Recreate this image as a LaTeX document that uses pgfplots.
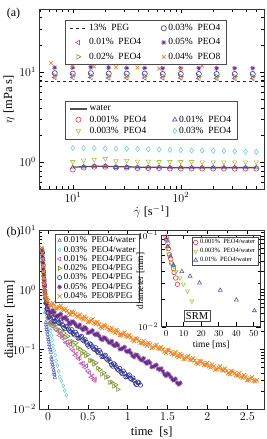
\documentclass[border=0pt]{standalone}
\usepackage{pgfplots}
\pgfplotsset{compat=1.18}
\usepackage{fontspec}
\setmainfont{Liberation Serif}
\usetikzlibrary{plotmarks}
\definecolor{cnavy}{HTML}{2E3585}
\definecolor{cpink}{HTML}{B8559E}
\definecolor{cpurple}{HTML}{6E2C91}
\definecolor{colive}{HTML}{7B9A2E}
\definecolor{corange}{HTML}{E8872A}
\definecolor{cred}{HTML}{D7404F}
\definecolor{cyg}{HTML}{A9C545}
\definecolor{cblue}{HTML}{4A5AAE}
\definecolor{ccyan}{HTML}{7ACBD2}
\definecolor{cwater}{HTML}{505050}
\definecolor{bpink}{HTML}{C05AB4}
\definecolor{bolive}{HTML}{7A9030}
\definecolor{bnavy}{HTML}{2F3088}
\definecolor{bpurple}{HTML}{6A2A8A}
\definecolor{bblue}{HTML}{5262B2}
\definecolor{bcyan}{HTML}{6CC6CC}
\pgfplotsset{
  commonstyle/.style={
    tick label style={font=\fontsize{12}{12}\selectfont},
    label style={font=\fontsize{12.5}{13}\selectfont},
    tick style={black, line width=0.5pt},
    axis line style={line width=0.7pt, black!80},
  },
  legA/.style={legend columns=2, legend cell align=left,
    legend style={font=\fontsize{9.5}{10}\selectfont, draw=black!70, line width=0.6pt,
      anchor=north west, inner xsep=4pt, inner ysep=2pt,
      /tikz/every even column/.append style={column sep=18pt}}},
  smallimg/.style={legend image code/.code={\draw[mark repeat=2,mark phase=2] plot coordinates {(0cm,0cm) (0.18cm,0cm) (0.36cm,0cm)};}},
}
\begin{document}
\begin{tikzpicture}
\useasboundingbox (0,0) rectangle (267pt,439pt);
% ---------------- Panel (a), high-viscosity group ----------------
\begin{axis}[commonstyle, legA,
  at={(39.3pt,249.7pt)}, anchor=south west, width=224.7pt, height=180.3pt, scale only axis,
  xmode=log, ymode=log, xmin=4.9, xmax=590, ymin=0.5, ymax=50,
  xlabel={$\dot{\gamma}$ [s$^{-1}$]}, ylabel={$\eta$ [mPa s]},
  xlabel shift=-4pt, ylabel shift=-2pt,
  legend style={at={(0.114,0.939)}, row sep=2.5pt},
  mark size=2.6pt]
\addplot[black!85, dashed, line width=0.9pt] coordinates {(4.9,7.9) (590,7.9)};
\addlegendentry{13\%\ \ PEG}
\addplot[only marks, mark=o, cnavy, mark options={line width=0.6pt}] coordinates {
(6.81,9.7)(10,9.6)(14.7,9.7)(21.5,9.6)(31.6,9.6)(46.4,9.6)(68.1,9.5)(100,9.5)(147,9.5)(215,9.5)(316,9.5)(464,9.5)};
\addlegendentry{0.03\%\ \ PEO4}
\addplot[only marks, mark=triangle, cpink, mark options={rotate=90, line width=0.6pt}] coordinates {
(6.81,8.7)(10,8.7)(14.7,8.7)(21.5,8.6)(31.6,8.6)(46.4,8.6)(68.1,8.6)(100,8.6)(147,8.5)(215,8.5)(316,8.5)(464,8.5)};
\addlegendentry{0.01\%\ \ PEO4}
\addplot[only marks, mark=10-pointed star, cpurple, mark options={fill=cpurple, line width=0.4pt}] coordinates {
(6.81,11.2)(10,11.2)(14.7,11.3)(21.5,11.2)(31.6,11.1)(46.4,11.1)(68.1,11.0)(100,11.0)(147,11.0)(215,11.0)(316,11.0)(464,11.0)};
\addlegendentry{0.05\%\ \ PEO4}
\addplot[only marks, mark=triangle, colive, mark options={rotate=-90, line width=0.6pt}] coordinates {
(6.81,9.1)(10,9.1)(14.7,9.1)(21.5,9.0)(31.6,9.0)(46.4,9.0)(68.1,9.0)(100,8.9)(147,8.9)(215,8.9)(316,8.9)(464,8.9)};
\addlegendentry{0.02\%\ \ PEO4}
\addplot[only marks, mark=x, corange, mark options={line width=0.7pt}] coordinates {
(6.31,12.6)(10,11.7)(15.8,11.5)(25.1,11.3)(39.8,11.2)(63.1,10.9)(100,10.8)(158,11.7)};
\addlegendentry{0.04\%\ \ PEO8}
\end{axis}
% ---------------- Panel (a), low-viscosity group ----------------
\begin{axis}[legA, hide axis,
  at={(39.3pt,249.7pt)}, anchor=south west, width=224.7pt, height=180.3pt, scale only axis,
  xmode=log, ymode=log, xmin=4.9, xmax=590, ymin=0.5, ymax=50,
  legend style={at={(0.114,0.489)}, row sep=-0.5pt},
  mark size=2.6pt]
\addplot[cwater, line width=1.3pt] coordinates {
(10,0.88)(12.6,0.89)(15.8,0.90)(20,0.90)(25.1,0.89)(31.6,0.89)(39.8,0.88)(50.1,0.88)(63.1,0.88)(79.4,0.87)(100,0.87)(126,0.87)(158,0.87)(200,0.87)(251,0.87)(316,0.87)(398,0.87)(501,0.87)};
\addlegendentry{water}
\addlegendimage{empty legend}\addlegendentry{}
\addplot[only marks, mark=o, cred, mark options={line width=0.6pt}] coordinates {
(10,0.83)(12.6,0.87)(15.8,0.89)(20,0.89)(25.1,0.87)(31.6,0.87)(39.8,0.86)(50.1,0.86)(63.1,0.86)(79.4,0.85)(100,0.85)(126,0.85)(158,0.85)(200,0.85)(251,0.85)(316,0.85)(398,0.85)(501,0.85)};
\addlegendentry{0.001\%\ \ PEO4}
\addplot[only marks, mark=triangle, cblue, mark options={line width=0.6pt}] coordinates {
(10,0.87)(12.6,0.89)(15.8,0.90)(20,0.90)(25.1,0.88)(31.6,0.88)(39.8,0.87)(50.1,0.87)(63.1,0.87)(79.4,0.87)(100,0.87)(126,0.87)(158,0.87)(200,0.87)(251,0.87)(316,0.87)(398,0.87)(501,0.87)};
\addlegendentry{0.01\%\ \ PEO4}
\addplot[only marks, mark=triangle, cyg, mark options={rotate=180, line width=0.6pt}] coordinates {
(10,1.01)(12.6,1.05)(15.8,1.07)(20,1.09)(25.1,1.03)(31.6,1.04)(39.8,1.02)(50.1,1.02)(63.1,1.01)(79.4,1.01)(100,1.01)(126,1.01)(158,1.00)(200,1.00)(251,1.00)(316,1.00)(398,1.00)(501,1.00)};
\addlegendentry{0.003\%\ \ PEO4}
\addplot[only marks, mark=diamond, ccyan, mark options={line width=0.6pt}] coordinates {
(10,1.44)(12.6,1.43)(15.8,1.43)(20,1.42)(25.1,1.41)(31.6,1.41)(39.8,1.40)(50.1,1.39)(63.1,1.38)(79.4,1.37)(100,1.36)(126,1.35)(158,1.35)(200,1.34)(251,1.33)(316,1.32)(398,1.31)(501,1.30)};
\addlegendentry{0.03\%\ \ PEO4}
\end{axis}
\node[font=\fontsize{12}{12}\selectfont] at (13.5pt,425.5pt) {(a)};
% ---------------- Panel (b) ----------------
\begin{axis}[commonstyle, smallimg,
  at={(39.3pt,30pt)}, anchor=south west, width=224.7pt, height=179pt, scale only axis,
  ymode=log, xmin=-0.11, xmax=2.71, ymin=0.01, ymax=10,
  xtick={0,0.5,1,1.5,2,2.5}, minor x tick num=1,
  xlabel={time\ \ [s]}, ylabel={diameter\ \ [mm]},
  ylabel shift=-9pt,
  legend cell align=left,
  legend style={at={(0.07,0.978)}, anchor=north west, font=\fontsize{9}{9.5}\selectfont,
    draw=black!70, line width=0.6pt, inner xsep=2pt, inner ysep=0.5pt, row sep=-2.2pt},
  mark size=2pt]
\addplot[only marks, mark=triangle, bblue, mark options={line width=0.5pt}] coordinates {
(-0.05,1.8)(-0.045,1.3)(-0.04,0.9)(-0.037,0.6)(-0.034,0.42)(-0.03,0.282)(-0.025,0.257)(-0.02,0.234)(-0.015,0.214)(-0.01,0.195)(-0.005,0.178)(0,0.158)(0.005,0.145)(0.01,0.132)(0.015,0.120)(0.02,0.107)(0.028,0.0977)(0.035,0.0891)(0.04,0.0741)(0.045,0.0676)(0.05,0.0603)(0.057,0.0550)(0.063,0.0501)(0.07,0.0447)(0.075,0.0407)(0.08,0.0372)(0.085,0.0339)};
\addlegendentry{0.01\%\ \ PEO4/water}
\addplot[only marks, mark=diamond, bcyan, mark options={line width=0.5pt}] coordinates {
(-0.05,1.5)(-0.045,1.1)(-0.04,0.8)(-0.035,0.6)(-0.03,0.45)(-0.02,0.38)(-0.01,0.33)(0,0.30)(0.012,0.26)(0.024,0.23)(0.034,0.204)(0.042,0.170)(0.05,0.141)(0.063,0.115)(0.076,0.0955)(0.088,0.0794)(0.10,0.0646)(0.117,0.0537)(0.134,0.0427)(0.147,0.0347)(0.167,0.0295)(0.19,0.0245)(0.21,0.0204)(0.23,0.0170)};
\addlegendentry{0.03\%\ \ PEO4/water}
\addplot[only marks, mark=triangle, bpink, mark size=2.3pt, mark options={rotate=90, line width=0.6pt}] coordinates {
(-0.075,4.8)(-0.07,3.8)(-0.065,2.9)(-0.06,2.2)(-0.055,1.7)(-0.05,1.3)(-0.045,1.0)(-0.04,0.8)(-0.03,0.6)(-0.02,0.48)(-0.01,0.40)
(0,0.339)(0.02,0.274)(0.04,0.279)(0.06,0.242)(0.08,0.257)(0.10,0.213)(0.12,0.202)(0.14,0.171)(0.16,0.182)(0.18,0.154)(0.20,0.161)(0.22,0.130)(0.24,0.132)(0.26,0.115)(0.28,0.122)(0.30,0.100)(0.32,0.0944)(0.34,0.0791)(0.36,0.0836)(0.38,0.0700)(0.40,0.0721)(0.42,0.0578)(0.44,0.0582)(0.46,0.0499)(0.48,0.0527)(0.50,0.0432)(0.52,0.0406)(0.54,0.0340)(0.56,0.0359)(0.58,0.0301)(0.59,0.0316)};
\addlegendentry{0.01\%\ \ PEO4/PEG}
\addplot[only marks, mark=triangle, bolive, mark size=2.3pt, mark options={rotate=-90, line width=0.6pt}] coordinates {
(-0.07,4.0)(-0.065,3.1)(-0.06,2.4)(-0.055,1.8)(-0.05,1.4)(-0.045,1.1)(-0.04,0.85)(-0.03,0.62)(-0.02,0.50)(-0.01,0.41)
(0,0.339)(0.025,0.275)(0.05,0.281)(0.075,0.244)(0.10,0.261)(0.125,0.216)(0.15,0.206)(0.175,0.175)(0.20,0.187)(0.225,0.159)(0.25,0.166)(0.275,0.135)(0.30,0.137)(0.325,0.119)(0.35,0.128)(0.375,0.106)(0.40,0.101)(0.425,0.0857)(0.45,0.0916)(0.475,0.0778)(0.50,0.0813)(0.525,0.0650)(0.55,0.0655)(0.575,0.0562)(0.60,0.0593)(0.625,0.0485)(0.65,0.0456)(0.675,0.0382)(0.70,0.0404)(0.725,0.0338)(0.75,0.0348)(0.775,0.0279)(0.80,0.0281)(0.825,0.0241)(0.85,0.0254)(0.875,0.0213)};
\addlegendentry{0.02\%\ \ PEO4/PEG}
\addplot[only marks, mark=o, bnavy, mark size=2.1pt, mark options={line width=0.6pt}] coordinates {
(-0.07,4.2)(-0.065,3.3)(-0.06,2.6)(-0.055,2.0)(-0.05,1.5)(-0.045,1.2)(-0.04,0.95)(-0.03,0.72)(-0.02,0.58)(-0.01,0.48)
(0,0.407)(0.015,0.352)(0.03,0.333)(0.045,0.370)(0.06,0.342)(0.075,0.295)(0.09,0.299)(0.105,0.310)(0.12,0.322)(0.135,0.278)(0.15,0.269)(0.165,0.286)(0.18,0.258)(0.195,0.233)(0.21,0.221)(0.225,0.245)(0.24,0.238)(0.255,0.220)(0.27,0.203)(0.285,0.197)(0.30,0.214)(0.315,0.184)(0.33,0.174)(0.345,0.193)(0.36,0.178)(0.375,0.153)(0.39,0.155)(0.405,0.160)(0.42,0.166)(0.435,0.143)(0.45,0.138)(0.465,0.146)(0.48,0.132)(0.495,0.119)(0.51,0.112)(0.525,0.124)(0.54,0.120)(0.555,0.111)(0.57,0.102)(0.585,0.0989)(0.60,0.107)(0.615,0.0923)(0.63,0.0871)(0.645,0.0959)(0.66,0.0879)(0.675,0.0753)(0.69,0.0757)(0.705,0.0778)(0.72,0.0800)(0.735,0.0686)(0.75,0.0658)(0.765,0.0692)(0.78,0.0619)(0.795,0.0555)(0.81,0.0521)(0.825,0.0574)(0.84,0.0551)(0.855,0.0505)(0.87,0.0463)(0.885,0.0445)(0.90,0.0479)(0.915,0.0413)(0.93,0.0390)(0.945,0.0434)(0.96,0.0400)(0.975,0.0345)(0.99,0.0349)(1.005,0.0362)(1.02,0.0375)(1.035,0.0324)(1.05,0.0313)(1.065,0.0332)(1.08,0.0300)(1.095,0.0270)(1.11,0.0256)(1.125,0.0284)(1.14,0.0275)(1.16,0.0251)};
\addlegendentry{0.03\%\ \ PEO4/PEG}
\addplot[only marks, mark=10-pointed star, bpurple, mark size=2.4pt, mark options={fill=bpurple, line width=0.4pt}] coordinates {
(-0.075,4.6)(-0.07,3.6)(-0.065,2.8)(-0.06,2.2)(-0.055,1.7)(-0.05,1.35)(-0.045,1.1)(-0.04,0.9)(-0.03,0.72)(-0.02,0.62)(-0.01,0.55)
(0,0.501)(0.02,0.432)(0.04,0.408)(0.06,0.453)(0.08,0.418)(0.10,0.361)(0.12,0.365)(0.14,0.378)(0.16,0.392)(0.18,0.337)(0.20,0.326)(0.22,0.346)(0.24,0.312)(0.26,0.281)(0.28,0.266)(0.30,0.295)(0.32,0.286)(0.34,0.265)(0.36,0.245)(0.38,0.238)(0.40,0.259)(0.42,0.224)(0.44,0.212)(0.46,0.236)(0.48,0.219)(0.50,0.189)(0.52,0.192)(0.54,0.200)(0.56,0.207)(0.58,0.179)(0.60,0.174)(0.62,0.185)(0.64,0.167)(0.66,0.151)(0.68,0.143)(0.70,0.158)(0.72,0.153)(0.74,0.142)(0.76,0.131)(0.78,0.127)(0.80,0.138)(0.82,0.119)(0.84,0.113)(0.86,0.125)(0.88,0.116)(0.90,0.100)(0.92,0.101)(0.94,0.105)(0.96,0.109)(0.98,0.0935)(1.00,0.0906)(1.02,0.0959)(1.04,0.0865)(1.06,0.0782)(1.08,0.0738)(1.10,0.0818)(1.12,0.0793)(1.14,0.0731)(1.16,0.0675)(1.18,0.0653)(1.20,0.0708)(1.22,0.0610)(1.24,0.0575)(1.26,0.0638)(1.28,0.0589)(1.30,0.0507)(1.32,0.0513)(1.34,0.0531)(1.36,0.0550)(1.38,0.0473)(1.40,0.0457)(1.42,0.0480)(1.44,0.0429)(1.46,0.0382)(1.48,0.0357)(1.50,0.0393)(1.52,0.0376)(1.54,0.0344)(1.56,0.0313)(1.58,0.0300)(1.60,0.0322)(1.62,0.0275)(1.64,0.0257)(1.66,0.0275)};
\addlegendentry{0.05\%\ \ PEO4/PEG}
\addplot[only marks, mark=x, corange, mark options={line width=0.8pt}, mark size=2.8pt] coordinates {
(-0.08,5.0)(-0.075,4.0)(-0.07,3.2)(-0.065,2.5)(-0.06,2.0)(-0.055,1.6)(-0.05,1.3)(-0.045,1.05)(-0.04,0.9)(-0.03,0.78)(-0.02,0.72)(-0.01,0.68)
(0,0.646)(0.02,0.561)(0.04,0.533)(0.06,0.597)(0.08,0.556)(0.10,0.482)(0.12,0.492)(0.14,0.514)(0.16,0.536)(0.18,0.466)(0.20,0.454)(0.22,0.484)(0.24,0.441)(0.26,0.401)(0.28,0.381)(0.30,0.427)(0.32,0.416)(0.34,0.386)(0.36,0.360)(0.38,0.351)(0.40,0.383)(0.42,0.333)(0.44,0.317)(0.46,0.354)(0.48,0.330)(0.50,0.286)(0.52,0.292)(0.54,0.305)(0.56,0.318)(0.58,0.276)(0.60,0.269)(0.62,0.288)(0.64,0.262)(0.66,0.238)(0.68,0.227)(0.70,0.254)(0.72,0.248)(0.74,0.231)(0.76,0.215)(0.78,0.209)(0.80,0.229)(0.82,0.199)(0.84,0.190)(0.86,0.212)(0.88,0.198)(0.90,0.172)(0.92,0.175)(0.94,0.183)(0.96,0.191)(0.98,0.166)(1.00,0.162)(1.02,0.173)(1.04,0.158)(1.06,0.144)(1.08,0.137)(1.10,0.153)(1.12,0.149)(1.14,0.139)(1.16,0.129)(1.18,0.126)(1.20,0.138)(1.22,0.121)(1.24,0.115)(1.26,0.129)(1.28,0.121)(1.30,0.105)(1.32,0.108)(1.34,0.114)(1.36,0.119)(1.38,0.104)(1.40,0.102)(1.42,0.109)(1.44,0.0995)(1.46,0.0910)(1.48,0.0869)(1.50,0.0977)(1.52,0.0957)(1.54,0.0893)(1.56,0.0836)(1.58,0.0818)(1.60,0.0897)(1.62,0.0783)(1.64,0.0750)(1.66,0.0841)(1.68,0.0787)(1.70,0.0687)(1.72,0.0703)(1.74,0.0738)(1.76,0.0774)(1.78,0.0675)(1.80,0.0661)(1.82,0.0710)(1.84,0.0650)(1.86,0.0594)(1.88,0.0569)(1.90,0.0641)(1.92,0.0628)(1.94,0.0587)(1.96,0.0551)(1.98,0.0540)(2.00,0.0593)(2.02,0.0519)(2.04,0.0497)(2.06,0.0558)(2.08,0.0524)(2.10,0.0457)(2.12,0.0469)(2.14,0.0493)(2.16,0.0518)(2.18,0.0452)(2.20,0.0444)(2.22,0.0476)(2.24,0.0436)(2.26,0.0399)(2.28,0.0382)(2.30,0.0430)(2.32,0.0422)(2.34,0.0394)(2.36,0.0369)(2.38,0.0362)(2.40,0.0398)(2.42,0.0347)(2.44,0.0332)(2.46,0.0372)(2.48,0.0348)(2.50,0.0303)(2.52,0.0311)(2.54,0.0326)(2.56,0.0342)(2.58,0.0298)(2.60,0.0291)(2.62,0.0305)};
\addlegendentry{0.04\%\ \ PEO8/PEG}
\end{axis}
% ---------------- Inset (SRM) ----------------
\begin{axis}[
  at={(161.7pt,112.3pt)}, anchor=south west, width=99pt, height=91.7pt, scale only axis,
  axis background/.style={fill=white},
  ymode=log, xmin=-2.5, xmax=54, ymin=0.01, ymax=0.1,
  xtick={0,10,20,30,40,50},
  tick label style={font=\fontsize{9.5}{10}\selectfont},
  label style={font=\fontsize{9.5}{10}\selectfont},
  tick style={black, line width=0.4pt},
  axis line style={line width=0.6pt, black!80},
  xlabel={time [ms]}, ylabel={diameter [mm]},
  ylabel shift=-13pt, xlabel shift=-2pt,
  legend cell align=left,
  legend style={at={(0.976,0.98)}, anchor=north east, font=\fontsize{6.5}{7}\selectfont,
    draw=black!70, line width=0.5pt, inner xsep=1pt, inner ysep=0.5pt, row sep=-1pt},
  mark size=2.3pt]
\addplot[only marks, mark=o, cred, mark options={line width=0.6pt}] coordinates {
(0.0,0.095)(0.4,0.088)(1.0,0.081)(1.3,0.071)(1.9,0.061)(2.7,0.055)(3.2,0.049)(4.2,0.043)(4.6,0.039)(5.5,0.034)(6.5,0.029)};
\addlegendentry{0.001\%\ \ PEO4/water}
\addplot[only marks, mark=triangle, cyg, mark options={rotate=180, line width=0.6pt}] coordinates {
(0.4,0.072)(1.5,0.062)(2.9,0.050)(4.5,0.045)(5.7,0.040)(8.0,0.034)(9.9,0.029)(12.2,0.0245)(14.7,0.019)};
\addlegendentry{0.003\%\ \ PEO4/water}
\addplot[only marks, mark=triangle, cblue, mark options={line width=0.6pt}] coordinates {
(0.0,0.090)(1.0,0.075)(2.5,0.058)(4.2,0.047)(9.0,0.040)(13.7,0.0355)(19.1,0.030)(30.9,0.025)(40.1,0.0196)(50.4,0.015)};
\addlegendentry{0.01\%\ \ PEO4/water}
\node[draw=black!70, line width=0.5pt, font=\fontsize{10.5}{11}\selectfont, inner sep=2pt] at (rel axis cs:0.357,0.117) {SRM};
\end{axis}
\node[font=\fontsize{12}{12}\selectfont] at (13.5pt,206pt) {(b)};
\end{tikzpicture}
\end{document}
